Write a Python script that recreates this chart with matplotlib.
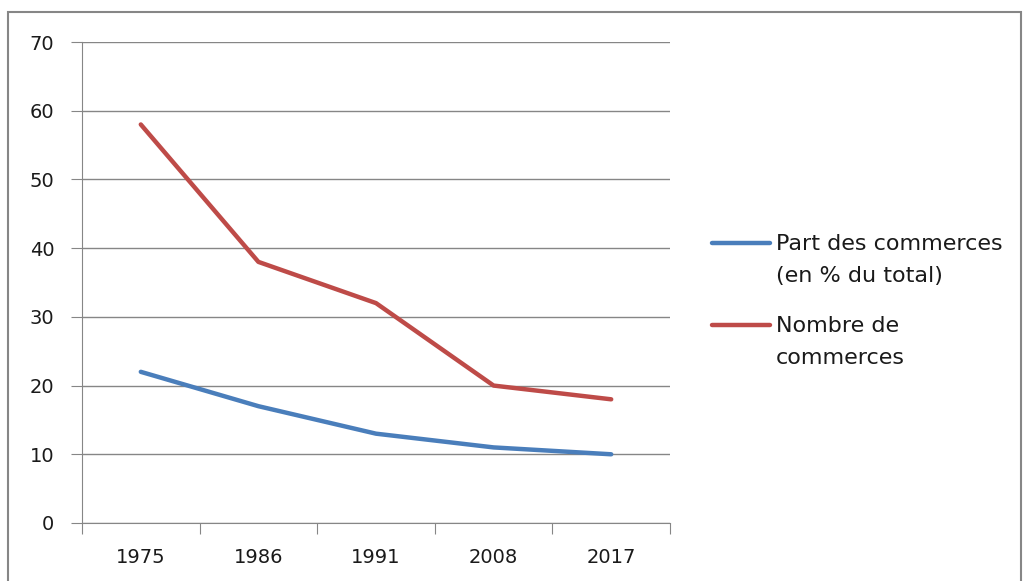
import matplotlib.pyplot as plt
import matplotlib.patches as patches
from matplotlib.lines import Line2D
import numpy as np

years = ["1975", "1986", "1991", "2008", "2017"]
part_commerces = [22, 17, 13, 11, 10]
nombre_commerces = [58, 38, 32, 20, 18]
label_part = "Part des commerces\n(en % du total)"
label_nombre = "Nombre de\ncommerces"
blue = "#4A7EBB"
red = "#BE4B48"

plt.rcParams["font.family"] = ["DejaVu Sans"]
fig = plt.figure(figsize=(10.26, 5.81), dpi=100)
ax = fig.add_axes([82 / 1026, 1 - 523 / 581, (670 - 82) / 1026, (523 - 42) / 581])

x = np.arange(len(years))
ax.plot(x, part_commerces, color=blue, lw=3.2, solid_capstyle="round", label=label_part)
ax.plot(x, nombre_commerces, color=red, lw=3.2, solid_capstyle="round", label=label_nombre)

ax.set_xlim(-0.5, len(years) - 0.5)
ax.set_ylim(0, 70)
ax.set_yticks(range(0, 71, 10))
ax.grid(axis="y", color="#868686", lw=1)
ax.set_axisbelow(True)

# category labels centred, tick marks between categories
ax.set_xticks(np.arange(-0.5, len(years)), minor=False)
ax.set_xticklabels([])
ax.set_xticks(x, minor=True)
ax.set_xticklabels(years, minor=True)
ax.tick_params(axis="x", which="major", length=8, color="#868686", direction="out")
ax.tick_params(axis="x", which="minor", length=0, pad=18, labelsize=14, labelcolor="#1a1a1a")
ax.tick_params(axis="y", length=8, color="#868686", pad=12, labelsize=14, labelcolor="#1a1a1a")

for s in ["top", "right"]:
    ax.spines[s].set_visible(False)
for s in ["left", "bottom"]:
    ax.spines[s].set_color("#868686")

# legend drawn by hand: the handle sits on the first text line, as in Excel
W, H = 1026, 581
for lab, col, yl in [(label_part, blue, 243), (label_nombre, red, 325)]:
    fig.add_artist(Line2D([712 / W, 770 / W], [1 - yl / H, 1 - yl / H], color=col, lw=3.2,
                          solid_capstyle="round"))
    fig.text(776 / W, 1 - (yl + 17) / H, lab, fontsize=16, color="#1a1a1a",
             va="center", ha="left", linespacing=1.7)

fig.patches.append(patches.Rectangle((8 / W, -0.05), (1021 - 8) / W, 1.05 - 12 / H,
                                     transform=fig.transFigure, fill=False, edgecolor="#868686", lw=1.5))

fig.savefig("out.png", dpi=100)
